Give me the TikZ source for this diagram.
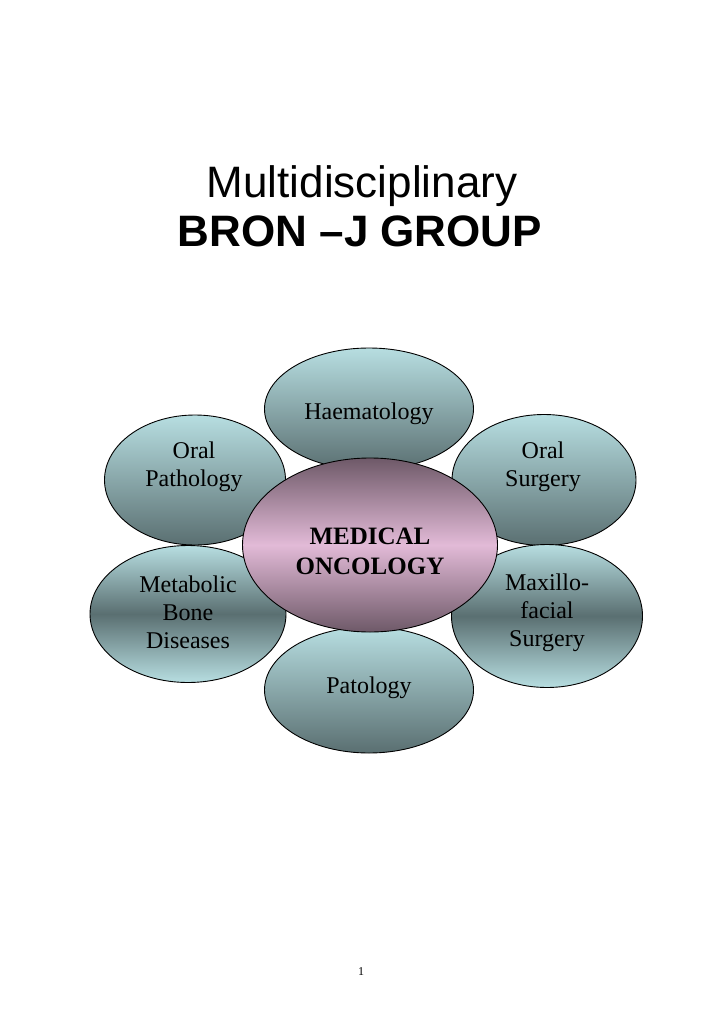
\documentclass[tikz,border=0pt]{standalone}
\usepackage{fontspec}
\setmainfont{Liberation Serif}
\newfontfamily\headfont{Liberation Sans}
\usepackage{xcolor}
\usepackage{tikz}
\usetikzlibrary{shapes.geometric}
\definecolor{aqualight}{HTML}{B7DEE1}
\definecolor{aquadark}{HTML}{5A6F71}
\definecolor{pinklight}{HTML}{E2BAD7}
\definecolor{pinkdark}{HTML}{6E5968}
\tikzstyle{petal} = [ellipse, draw=black, line width=0.9pt, inner sep=0pt, top color=aqualight, bottom color=aquadark]
\tikzstyle{petalmid} = [ellipse, draw=black, line width=0.9pt, inner sep=0pt, top color=aqualight, bottom color=aqualight, middle color=aquadark]
\tikzstyle{core} = [ellipse, draw=black, line width=0.9pt, inner sep=0pt, top color=pinkdark, bottom color=pinkdark, middle color=pinklight]
\tikzstyle{petaltext} = [align=center, inner sep=0pt, font=\fontsize{24}{28}\selectfont]
\tikzstyle{coretext} = [align=center, inner sep=0pt, font=\bfseries\fontsize{25}{30}\selectfont]

\begin{document}
\begin{tikzpicture}[x=1pt, y=-1pt]

	\useasboundingbox (0,0) rectangle (724,1024);

	\node (title) [anchor=base, font=\headfont\fontsize{44}{48}\selectfont] at (362,198) {Multidisciplinary};
	\node (group) [anchor=base, font=\headfont\bfseries\fontsize{44}{48}\selectfont] at (360,246) {BRON –J GROUP};

	\node (haem) [petal, minimum width=209pt, minimum height=122pt] at (369,409) {};
	\node (oralpath) [petal, minimum width=181pt, minimum height=130pt] at (195,480) {};
	\node (oralsurg) [petal, minimum width=184pt, minimum height=131pt] at (544,480) {};
	\node (patol) [petal, minimum width=209pt, minimum height=126pt] at (369,690) {};
	\node (metab) [petalmid, minimum width=196pt, minimum height=137pt] at (188,614) {};
	\node (maxil) [petalmid, minimum width=191pt, minimum height=143pt] at (547,616) {};
	\node (onco) [core, minimum width=255pt, minimum height=174pt] at (370,545) {};

	\node (haemtext) [petaltext] at (369,414) {Haematology};
	\node (oralpathtext) [petaltext] at (194,467) {Oral\\Pathology};
	\node (oralsurgtext) [petaltext] at (543,467) {Oral\\Surgery};
	\node (metabtext) [petaltext] at (188,612) {Metabolic\\Bone\\Diseases};
	\node (maxiltext) [petaltext] at (547,613) {Maxillo-\\facial\\Surgery};
	\node (patoltext) [petaltext] at (369,688) {Patology};
	\node (oncotext) [coretext] at (370,551) {MEDICAL\\ONCOLOGY};

	\node (pagenum) [font=\fontsize{12}{14}\selectfont] at (361,972) {1};

\end{tikzpicture}
\end{document}
